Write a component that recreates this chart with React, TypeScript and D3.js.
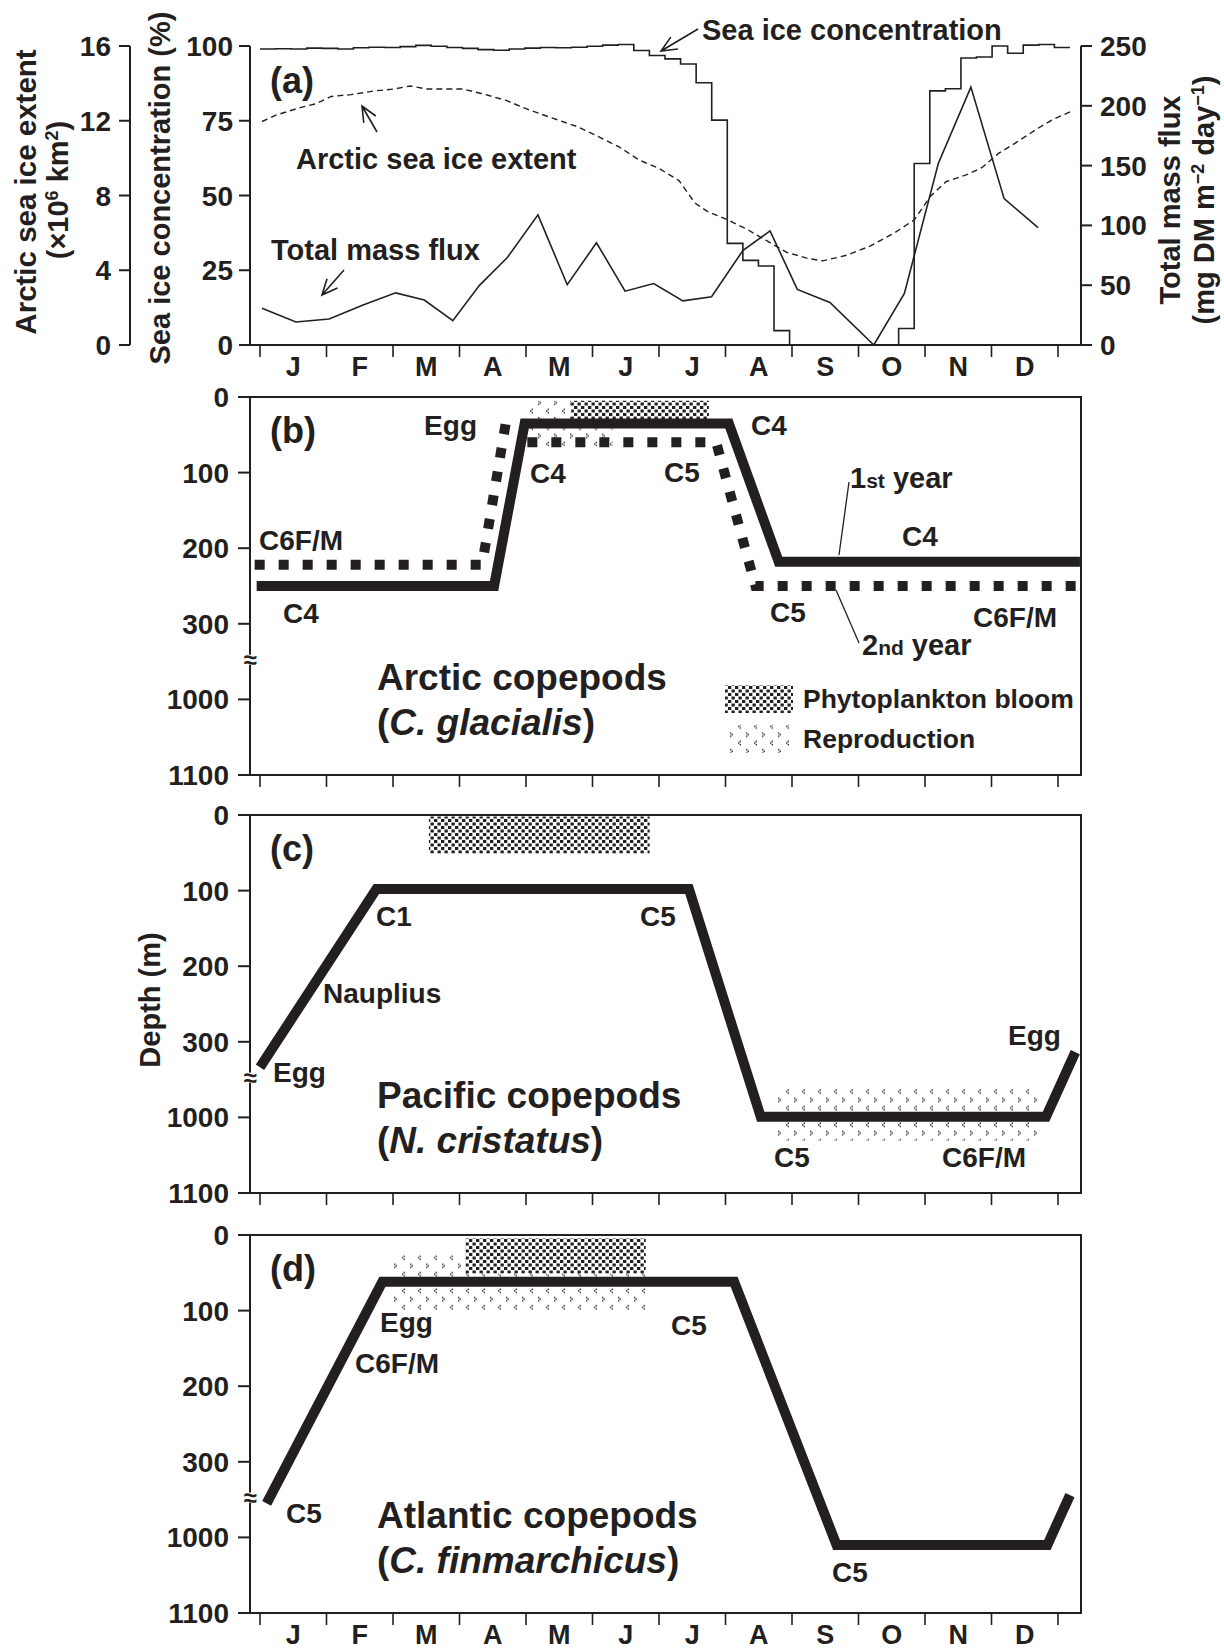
import React from 'react';
import * as d3 from 'd3';

const FONT = '"Liberation Sans", Arial, Helvetica, sans-serif';
const INK = '#231f20';

const monthLabels = ['J', 'F', 'M', 'A', 'M', 'J', 'J', 'A', 'S', 'O', 'N', 'D'];
const concTicks = [0, 25, 50, 75, 100];
const extentTicks = [0, 4, 8, 12, 16];
const fluxTicks = [0, 50, 100, 150, 200, 250];
const depthTicks = [0, 100, 200, 300, 1000, 1100];

// weekly sea ice concentration (%), 52 weeks
const seaIceConc = [
  99.0, 99.1, 99.0, 99.3, 99.2, 99.0, 99.4, 99.6, 99.5, 99.8, 100.2, 99.9,
  99.5, 99.2, 98.8, 98.6, 99.0, 99.3, 99.5, 99.4, 99.6, 99.9, 100.3, 100.5,
  98.5, 96.8, 95.7, 94.0, 87.7, 75.2, 34.0, 28.3, 26.4, 4.8,
  0, 0, 0, 0, 0, 0, 0,
  5.5, 60.7, 85.0, 85.7, 96.0, 96.3, 100.0, 97.6, 100.3, 100.5, 99.5,
];

// Arctic sea ice extent (x10^6 km2), month position
const extentMonth = [0.03, 0.24, 0.6, 0.83, 1.07, 1.37, 1.73, 2.02, 2.26, 2.5, 2.86, 3.04, 3.33, 3.69, 4.05, 4.4, 4.76, 5.12, 5.4, 5.7, 6.0, 6.3, 6.54, 6.72, 7.02, 7.32, 7.62, 7.92, 8.22, 8.46, 8.82, 9.18, 9.54, 9.84, 10.08, 10.32, 10.62, 10.86, 11.1, 11.4, 11.7, 11.94, 12.2];
const extentValue = [11.96, 12.3, 12.7, 12.9, 13.3, 13.4, 13.6, 13.7, 13.86, 13.7, 13.7, 13.7, 13.46, 13.1, 12.58, 12.14, 11.7, 11.1, 10.6, 9.9, 9.45, 8.8, 7.6, 7.16, 6.72, 6.2, 5.58, 4.96, 4.65, 4.5, 4.8, 5.3, 6.0, 6.7, 7.95, 8.75, 9.1, 9.5, 10.24, 10.9, 11.6, 12.1, 12.5];

// total mass flux (mg DM m-2 day-1)
const fluxMonth = [0.03, 0.54, 1.04, 1.55, 2.04, 2.47, 2.9, 3.3, 3.72, 4.18, 4.62, 5.06, 5.49, 5.92, 6.36, 6.79, 7.26, 7.67, 8.08, 8.57, 9.23, 9.69, 10.2, 10.69, 11.19, 11.7];
const fluxValue = [30.7, 19.2, 21.7, 33.4, 43.6, 37.6, 20.3, 49.9, 73.2, 108.8, 50.4, 85.5, 45, 51.4, 36.9, 40.4, 78.9, 95.4, 46.5, 35.5, 0, 43.2, 151.8, 215.6, 122.4, 98.2];

// (b) C. glacialis
const glacialis1stMonth = [-0.05, 3.52, 3.98, 7.05, 7.8, 12.33];
const glacialis1stDepth = [250, 250, 35, 35, 218, 218];
const glacialis2ndAMonth = [-0.08, 3.34, 3.7];
const glacialis2ndADepth = [222, 222, 32];
const glacialis2ndBMonth = [4.02, 6.86, 7.45, 12.33];
const glacialis2ndBDepth = [60, 60, 250, 250];
const glacialisBloomMonth = [4.68, 6.75];
const glacialisBloomDepth = [5, 35];
const glacialisReproMonth = [4.05, 5.3];
const glacialisReproDepth = [5, 65];

// (c) N. cristatus
const cristatusMonth = [0, 1.75, 6.45, 7.53, 11.82, 12.26];
const cristatusDepth = [535, 98, 98, 995, 995, 396];
const cristatusBloomMonth = [2.54, 5.86];
const cristatusBloomDepth = [2, 51];
const cristatusReproMonth = [7.77, 11.69];
const cristatusReproDepth = [733, 1031];

// (d) C. finmarchicus
const finmarchicusMonth = [0.1, 1.84, 7.13, 8.67, 11.84, 12.18];
const finmarchicusDepth = [685, 62, 62, 1010, 1010, 608];
const finmarchicusBloomMonth = [3.09, 5.8];
const finmarchicusBloomDepth = [4, 51];
const finmarchicusReproMonth = [1.94, 5.83];
const finmarchicusReproDepth = [27, 100];

const W = 1224;
const H = 1649;
const plotLeft = 250;
const plotRight = 1081;
const x = d3.scaleLinear().domain([0, 12]).range([260, 1058]);
const monthEdges = d3.range(13);

const aTop = 46;
const aBottom = 345;
const yConc = d3.scaleLinear().domain([0, 100]).range([aBottom, aTop]);
const yExtent = d3.scaleLinear().domain([0, 16]).range([aBottom, aTop]);
const yFlux = d3.scaleLinear().domain([0, 250]).range([aBottom, aTop]);
const week = d3.scaleLinear().domain([0, 52]).range([0, 12.18]);

const depthStep = 75.6;

const arrow = (x1, y1, x2, y2, len = 17, spread = 0.42) => {
  const a = Math.atan2(y1 - y2, x1 - x2);
  const w1 = [x2 + len * Math.cos(a + spread), y2 + len * Math.sin(a + spread)];
  const w2 = [x2 + len * Math.cos(a - spread), y2 + len * Math.sin(a - spread)];
  return `M${x1},${y1}L${x2},${y2}M${w1[0]},${w1[1]}L${x2},${y2}L${w2[0]},${w2[1]}`;
};

const txt = { fontFamily: FONT, fontWeight: 700, fill: INK };

function MonthAxis({ y, labels }) {
  return (
    <g>
      {monthEdges.map((m) => (
        <line key={m} x1={x(m)} x2={x(m)} y1={y} y2={y + 12} stroke={INK} strokeWidth={1.6} />
      ))}
      {labels &&
        monthLabels.map((l, i) => (
          <text key={i} x={x(i + 0.5)} y={y + 31} textAnchor="middle" fontSize={27} style={txt}>
            {l}
          </text>
        ))}
    </g>
  );
}

function DepthPanel({ top, tag, lines, bloom, repro, labels, title, genus, species, monthText }) {
  const y = d3.scaleLinear().domain(depthTicks).range(depthTicks.map((_, i) => top + i * depthStep));
  const bottom = top + 5 * depthStep;
  const line = d3.line().x((d) => x(d[0])).y((d) => y(d[1]));
  const breakY = (y(300) + y(1000)) / 2 - 2;
  return (
    <g>
      {repro && (
        <rect x={x(repro.month[0])} y={y(repro.depth[0])} width={x(repro.month[1]) - x(repro.month[0])}
          height={y(repro.depth[1]) - y(repro.depth[0])} fill="url(#reproPat)" />
      )}
      {bloom && (
        <rect x={x(bloom.month[0])} y={y(bloom.depth[0])} width={x(bloom.month[1]) - x(bloom.month[0])}
          height={y(bloom.depth[1]) - y(bloom.depth[0])} fill="url(#bloomPat)" />
      )}
      {lines.map((l, i) => (
        <path key={i} d={line(l.month.map((m, j) => [m, l.depth[j]]))} fill="none" stroke={INK}
          strokeWidth={10} strokeLinejoin="miter" strokeDasharray={l.dotted ? '10,14' : undefined} />
      ))}
      <rect x={plotLeft} y={top} width={plotRight - plotLeft} height={bottom - top} fill="none" stroke={INK} strokeWidth={2} />
      {depthTicks.map((t) => (
        <g key={t}>
          <line x1={plotLeft - 12} x2={plotLeft} y1={y(t)} y2={y(t)} stroke={INK} strokeWidth={2} />
          <text x={229} y={y(t)} dy="0.36em" textAnchor="end" fontSize={28} style={txt}>{t}</text>
        </g>
      ))}
      <rect x={plotLeft - 6} y={breakY - 5} width={12} height={10} fill="#fff" />
      <text x={plotLeft} y={breakY} dy="0.33em" textAnchor="middle" fontSize={24} style={txt}>≈</text>
      <text x={270} y={top + 46} fontSize={36} style={txt}>{tag}</text>
      {labels.map((l, i) => (
        <text key={i} x={l.x} y={top + l.dy} textAnchor={l.anchor || 'start'} fontSize={28} style={txt}>
          {l.text}
        </text>
      ))}
      <text x={377} y={top + 293} fontSize={37} style={txt}>{title}</text>
      <text x={377} y={top + 338} fontSize={37} style={txt}>
        (<tspan fontStyle="italic">{genus} {species}</tspan>)
      </text>
      <MonthAxis y={bottom} labels={monthText} />
    </g>
  );
}

const chevronRight = (cx, cy) =>
  [[0, 0], [1.6, 1.6], [0, 3.2]].map(([dx, dy], i) => (
    <rect key={`r${cx}${i}`} x={cx + dx} y={cy + dy} width={1.4} height={1.4} fill={INK} />
  ));
const chevronLeft = (cx, cy) =>
  [[1.6, 0], [0, 1.6], [1.6, 3.2]].map(([dx, dy], i) => (
    <rect key={`l${cx}${i}`} x={cx + dx} y={cy + dy} width={1.4} height={1.4} fill={INK} />
  ));

export default function App() {
  const concLine = d3
    .line()
    .curve(d3.curveStepAfter)
    .x((d) => x(d[0]))
    .y((d) => yConc(d[1]));
  const concPts = seaIceConc.map((v, i) => [week(i), v]);
  concPts.push([week(52), seaIceConc[51]]);

  const extentLine = d3.line().x((d) => x(d[0])).y((d) => yExtent(d[1]));
  const fluxLine = d3.line().x((d) => x(d[0])).y((d) => yFlux(d[1]));

  const panelB = 397;
  const panelC = 815;
  const panelD = 1235;

  return (
    <svg width={W} height={H} viewBox={`0 0 ${W} ${H}`} style={{ position: 'absolute', left: 0, top: 0, background: '#fff' }}>
      <defs>
        <pattern id="bloomPat" width="7" height="7" patternUnits="userSpaceOnUse">
          <rect width="7" height="7" fill="#fff" />
          <rect x="0" y="0" width="3.3" height="3" fill={INK} />
          <rect x="3.5" y="3.5" width="3.3" height="3" fill={INK} />
        </pattern>
        <pattern id="reproPat" width="16" height="16.6" patternUnits="userSpaceOnUse">
          <rect width="16" height="16.6" fill="#fff" />
          {chevronRight(10, 2)}
          {chevronLeft(2, 10.3)}
        </pattern>
      </defs>
      <rect width={W} height={H} fill="#fff" />

      {/* panel (a) */}
      <path d={extentLine(extentMonth.map((m, i) => [m, extentValue[i]]))} fill="none" stroke={INK} strokeWidth={1.4} strokeDasharray="6,4" />
      <path d={fluxLine(fluxMonth.map((m, i) => [m, fluxValue[i]]))} fill="none" stroke={INK} strokeWidth={1.6} />
      <path d={concLine(concPts)} fill="none" stroke={INK} strokeWidth={1.6} />

      <line x1={plotLeft} x2={plotLeft} y1={aTop} y2={aBottom} stroke={INK} strokeWidth={2} />
      <line x1={plotLeft} x2={plotRight} y1={aBottom} y2={aBottom} stroke={INK} strokeWidth={2} />
      <line x1={plotRight} x2={plotRight} y1={aTop} y2={aBottom} stroke={INK} strokeWidth={2} />
      <line x1={130} x2={130} y1={aTop} y2={aBottom} stroke={INK} strokeWidth={2} />

      {concTicks.map((t) => (
        <g key={t}>
          <line x1={plotLeft - 11} x2={plotLeft} y1={yConc(t)} y2={yConc(t)} stroke={INK} strokeWidth={2} />
          <text x={233} y={yConc(t)} dy="0.36em" textAnchor="end" fontSize={28} style={txt}>{t}</text>
        </g>
      ))}
      {extentTicks.map((t) => (
        <g key={t}>
          <line x1={119} x2={130} y1={yExtent(t)} y2={yExtent(t)} stroke={INK} strokeWidth={2} />
          <text x={111} y={yExtent(t)} dy="0.36em" textAnchor="end" fontSize={28} style={txt}>{t}</text>
        </g>
      ))}
      {fluxTicks.map((t) => (
        <g key={t}>
          <line x1={plotRight} x2={plotRight + 11} y1={yFlux(t)} y2={yFlux(t)} stroke={INK} strokeWidth={2} />
          <text x={1100} y={yFlux(t)} dy="0.36em" textAnchor="start" fontSize={28} style={txt}>{t}</text>
        </g>
      ))}
      <MonthAxis y={aBottom} labels />

      <text transform="translate(36,192) rotate(-90)" textAnchor="middle" fontSize={29.5} style={txt}>Arctic sea ice extent</text>
      <text transform="translate(68,190) rotate(-90)" textAnchor="middle" fontSize={29} style={txt}>
        (×10<tspan fontSize={18} dy={-10}>6</tspan><tspan dy={10}> km</tspan><tspan fontSize={18} dy={-10}>2</tspan><tspan dy={10}>)</tspan>
      </text>
      <text transform="translate(170,188) rotate(-90)" textAnchor="middle" fontSize={29} style={txt}>Sea ice concentration (%)</text>
      <text transform="translate(1180,200) rotate(-90)" textAnchor="middle" fontSize={29} style={txt}>Total mass flux</text>
      <text transform="translate(1214,200) rotate(-90)" textAnchor="middle" fontSize={29} style={txt}>
        (mg DM m<tspan fontSize={18} dy={-10}>−2</tspan><tspan dy={10}> day</tspan><tspan fontSize={18} dy={-10}>−1</tspan><tspan dy={10}>)</tspan>
      </text>

      <text x={270} y={93} fontSize={36} style={txt}>(a)</text>
      <text x={702} y={40} fontSize={29} style={txt}>Sea ice concentration</text>
      <path d={arrow(698, 29, 661, 51)} fill="none" stroke={INK} strokeWidth={1.6} />
      <text x={296} y={169} fontSize={29} style={txt}>Arctic sea ice extent</text>
      <path d={arrow(377, 132, 362, 106)} fill="none" stroke={INK} strokeWidth={1.6} />
      <text x={271} y={260} fontSize={29} style={txt}>Total mass flux</text>
      <path d={arrow(344, 270, 322, 295)} fill="none" stroke={INK} strokeWidth={1.6} />

      {/* panel (b) */}
      <DepthPanel
        top={panelB}
        tag="(b)"
        repro={{ month: glacialisReproMonth, depth: glacialisReproDepth }}
        bloom={{ month: glacialisBloomMonth, depth: glacialisBloomDepth }}
        lines={[
          { month: glacialis2ndAMonth, depth: glacialis2ndADepth, dotted: true },
          { month: glacialis2ndBMonth, depth: glacialis2ndBDepth, dotted: true },
          { month: glacialis1stMonth, depth: glacialis1stDepth },
        ]}
        labels={[
          { text: 'Egg', x: 477, dy: 38, anchor: 'end' },
          { text: 'C4', x: 530, dy: 86 },
          { text: 'C5', x: 664, dy: 85 },
          { text: 'C6F/M', x: 259, dy: 153 },
          { text: 'C4', x: 283, dy: 226 },
          { text: 'C4', x: 751, dy: 38 },
          { text: 'C4', x: 902, dy: 149 },
          { text: 'C5', x: 770, dy: 225 },
          { text: 'C6F/M', x: 973, dy: 230 },
        ]}
        title="Arctic copepods"
        genus="C."
        species="glacialis"
      />
      <text x={850} y={488} style={txt} fontSize={29}>
        1<tspan fontSize={21}>st</tspan> year
      </text>
      <line x1={849} y1={482} x2={839} y2={555} stroke={INK} strokeWidth={1.3} />
      <text x={862} y={655} style={txt} fontSize={29}>
        2<tspan fontSize={21}>nd</tspan> year
      </text>
      <line x1={859} y1={643} x2={836} y2={590} stroke={INK} strokeWidth={1.3} />
      <rect x={725} y={685} width={68} height={28} fill="url(#bloomPat)" />
      <text x={803} y={708} fontSize={26.5} style={txt}>Phytoplankton bloom</text>
      <rect x={725} y={725} width={66} height={28} fill="url(#reproPat)" />
      <text x={803} y={748} fontSize={26.5} style={txt}>Reproduction</text>

      {/* panel (c) */}
      <DepthPanel
        top={panelC}
        tag="(c)"
        repro={{ month: cristatusReproMonth, depth: cristatusReproDepth }}
        bloom={{ month: cristatusBloomMonth, depth: cristatusBloomDepth }}
        lines={[{ month: cristatusMonth, depth: cristatusDepth }]}
        labels={[
          { text: 'C1', x: 376, dy: 111 },
          { text: 'C5', x: 640, dy: 111 },
          { text: 'Nauplius', x: 323, dy: 188 },
          { text: 'Egg', x: 273, dy: 267 },
          { text: 'Egg', x: 1008, dy: 230 },
          { text: 'C5', x: 774, dy: 352 },
          { text: 'C6F/M', x: 942, dy: 352 },
        ]}
        title="Pacific copepods"
        genus="N."
        species="cristatus"
      />
      <text transform="translate(160,1000) rotate(-90)" textAnchor="middle" fontSize={29} style={txt}>Depth (m)</text>

      {/* panel (d) */}
      <DepthPanel
        top={panelD}
        tag="(d)"
        repro={{ month: finmarchicusReproMonth, depth: finmarchicusReproDepth }}
        bloom={{ month: finmarchicusBloomMonth, depth: finmarchicusBloomDepth }}
        lines={[{ month: finmarchicusMonth, depth: finmarchicusDepth }]}
        labels={[
          { text: 'Egg', x: 380, dy: 97 },
          { text: 'C6F/M', x: 355, dy: 138 },
          { text: 'C5', x: 671, dy: 100 },
          { text: 'C5', x: 286, dy: 288 },
          { text: 'C5', x: 832, dy: 347 },
        ]}
        title="Atlantic copepods"
        genus="C."
        species="finmarchicus"
        monthText
      />
    </svg>
  );
}
